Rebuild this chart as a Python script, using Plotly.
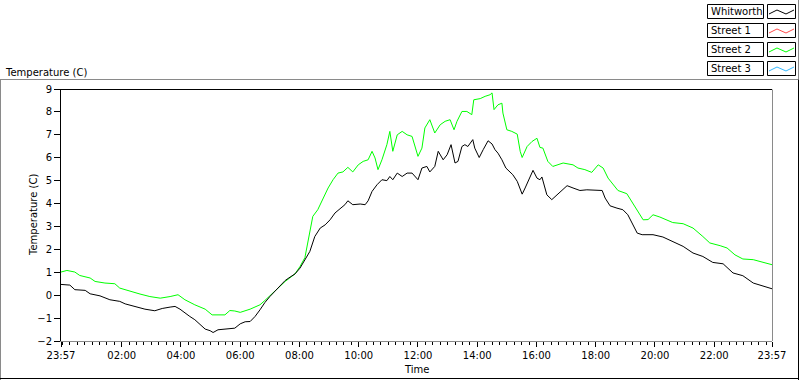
import plotly.graph_objects as go

# ---------------- data (time = minutes after 23:57) ----------------
whit_min = [0, 18, 28, 49, 59, 79, 99, 119, 130, 150, 170, 190, 205, 221, 231, 241, 251, 261, 271, 282,
            292, 302, 308, 318, 332, 352, 363, 373, 383, 393, 403, 413, 423, 433, 444, 454, 464, 474, 484, 494,
            504, 514, 525, 535, 545, 555, 565, 575, 581, 591, 606, 616, 622, 630, 640, 650, 660, 666, 672, 681,
            691, 701, 711, 723, 731, 741, 747, 757, 764, 774, 782, 790, 798, 804, 812, 818, 824, 834, 838, 847,
            855, 865, 873, 879, 885, 893, 901, 909, 915, 924, 934, 940, 946, 956, 964, 970, 974, 984, 994, 1005,
            1015, 1025, 1037, 1051, 1065, 1077, 1096, 1102, 1112, 1126, 1138, 1148, 1156, 1167, 1177, 1199, 1219,
            1239, 1260, 1280, 1300, 1320, 1341, 1361, 1381, 1402, 1422, 1440]
whit_temp = [0.47, 0.44, 0.24, 0.21, 0.06, -0.03, -0.2, -0.27, -0.38, -0.49, -0.61, -0.68, -0.58, -0.52, -0.49,
             -0.61, -0.78, -0.93, -1.07, -1.29, -1.48, -1.55, -1.63, -1.51, -1.48, -1.44, -1.25, -1.16, -1.15,
             -0.93, -0.64, -0.32, -0.06, 0.16, 0.41, 0.64, 0.79, 0.93, 1.18, 1.55, 1.91, 2.56, 2.93, 3.07, 3.29,
             3.59, 3.77, 3.95, 4.12, 3.95, 3.98, 3.95, 4.12, 4.53, 4.82, 5.04, 5.0, 5.18, 5.04, 5.33, 5.18, 5.33,
             5.33, 5.04, 5.55, 5.62, 5.38, 5.62, 6.28, 5.91, 6.13, 6.57, 5.77, 5.84, 6.49, 6.57, 6.49, 6.79, 6.42,
             6.01, 6.35, 6.74, 6.6, 6.35, 6.2, 5.91, 5.55, 5.38, 5.26, 4.97, 4.41, 4.68, 5.0, 5.45, 5.11, 5.04,
             5.16, 4.38, 4.17, 4.38, 4.6, 4.78, 4.68, 4.57, 4.6, 4.6, 4.57, 4.24, 3.9, 3.8, 3.73, 3.51, 3.15, 2.71,
             2.64, 2.64, 2.54, 2.35, 2.13, 1.84, 1.69, 1.43, 1.37, 0.97, 0.85, 0.53, 0.41, 0.28]

street2_min = [0, 12, 28, 38, 59, 69, 89, 109, 119, 140, 160, 180, 201, 221, 237, 251, 271, 292, 306, 332, 342,
               352, 363, 383, 393, 403, 413, 433, 454, 474, 484, 494, 500, 510, 520, 531, 541, 551, 561, 571, 581,
               591, 602, 612, 622, 630, 636, 642, 650, 660, 666, 672, 681, 691, 701, 711, 717, 723, 731, 737, 747,
               757, 768, 778, 788, 796, 802, 812, 822, 832, 836, 849, 859, 869, 873, 877, 885, 893, 895, 903, 913,
               924, 930, 934, 944, 954, 964, 970, 976, 986, 996, 1017, 1037, 1047, 1061, 1075, 1088, 1098, 1108,
               1118, 1128, 1146, 1158, 1169, 1179, 1189, 1199, 1213, 1227, 1239, 1260, 1280, 1300, 1314, 1335,
               1349, 1365, 1381, 1402, 1422, 1440]
street2_temp = [1.01, 1.08, 1.01, 0.86, 0.75, 0.6, 0.53, 0.5, 0.31, 0.16, 0.05, -0.06, -0.13, -0.06, 0.02, -0.2,
                -0.42, -0.61, -0.86, -0.86, -0.67, -0.69, -0.75, -0.61, -0.52, -0.42, -0.23, 0.16, 0.6, 0.93, 1.25,
                1.64, 2.35, 3.44, 3.73, 4.24, 4.68, 5.04, 5.33, 5.38, 5.58, 5.38, 5.69, 5.84, 5.91, 6.28, 5.99, 5.48,
                5.91, 6.57, 7.15, 6.28, 7.0, 7.15, 7.0, 6.93, 6.49, 6.06, 6.42, 7.3, 7.66, 7.08, 7.44, 7.59, 7.66,
                7.22, 7.59, 8.02, 8.02, 7.88, 8.53, 8.58, 8.68, 8.75, 8.83, 8.1, 8.31, 8.38, 7.95, 7.22, 7.15, 7.03,
                6.28, 6.01, 6.49, 6.71, 6.85, 6.45, 6.42, 5.84, 5.62, 5.77, 5.69, 5.55, 5.48, 5.36, 5.69, 5.55, 5.11,
                4.86, 4.57, 4.43, 4.02, 3.59, 3.29, 3.3, 3.51, 3.41, 3.29, 3.17, 3.12, 2.93, 2.56, 2.28, 2.16, 2.06,
                1.76, 1.58, 1.55, 1.43, 1.33]

street1_min, street1_temp = [], []
street3_min, street3_temp = [], []

x_tick_vals = [0, 123, 243, 363, 483, 603, 723, 843, 963, 1083, 1203, 1323, 1440]
x_tick_text = ["23:57", "02:00", "04:00", "06:00", "08:00", "10:00", "12:00", "14:00",
               "16:00", "18:00", "20:00", "22:00", "23:57"]
y_tick_vals = list(range(-2, 10))

legend_names = ["Whitworth", "Street 1", "Street 2", "Street 3"]
legend_colors = ["#000000", "#ff4a4a", "#00ff00", "#33b9ff"]

# ---------------- layout geometry (pixels) ----------------
W, H = 800, 380
PL, PR, PT, PB = 61, 772, 89, 341   # plot area edges


def px(x):
    return (x - PL) / (PR - PL)


def py(y):
    return (PB - y) / (PB - PT)


FONT = "DejaVu Sans"

fig = go.Figure()
fig.add_trace(go.Scatter(x=street1_min, y=street1_temp, mode="lines", name="Street 1",
                         line=dict(color=legend_colors[1], width=1)))
fig.add_trace(go.Scatter(x=street3_min, y=street3_temp, mode="lines", name="Street 3",
                         line=dict(color=legend_colors[3], width=1)))
fig.add_trace(go.Scatter(x=street2_min, y=street2_temp, mode="lines", name="Street 2",
                         line=dict(color=legend_colors[2], width=1)))
fig.add_trace(go.Scatter(x=whit_min, y=whit_temp, mode="lines", name="Whitworth",
                         line=dict(color=legend_colors[0], width=1)))

shapes = []
annotations = []


def line(x0, y0, x1, y1, color, width=1):
    shapes.append(dict(type="line", xref="paper", yref="paper",
                       x0=px(x0), y0=py(y0), x1=px(x1), y1=py(y1),
                       line=dict(color=color, width=width)))


# outer frame
line(0, 79.5, 799, 79.5, "#8a8a8a")
line(0.5, 79.5, 0.5, 380, "#8a8a8a")
line(798.5, 79.5, 798.5, 380, "#000000")
line(0, 378.5, 799, 378.5, "#000000")
# legend frame
line(798.5, 0, 798.5, 79.5, "#8a8a8a")
# plot area border (top black, right grey)
line(PL, 89.5, PR, 89.5, "#000000")
line(PR + 0.5, 89.5, PR + 0.5, 341, "#8a8a8a")

# legend boxes
for i, (name, col) in enumerate(zip(legend_names, legend_colors)):
    top = 4 + 19 * i
    bot = top + 14
    shapes.append(dict(type="rect", xref="paper", yref="paper",
                       x0=px(707.5), x1=px(763.5), y0=py(bot + 0.5), y1=py(top + 0.5),
                       line=dict(color="#000000", width=1), fillcolor="white"))
    shapes.append(dict(type="rect", xref="paper", yref="paper",
                       x0=px(767.5), x1=px(795.5), y0=py(bot + 0.5), y1=py(top + 0.5),
                       line=dict(color="#000000", width=1), fillcolor="white"))
    pts = [(769, top + 10), (777, top + 6), (786, top + 10), (794, top + 6)]
    path = "M " + " L ".join(f"{px(a):.5f},{py(b):.5f}" for a, b in pts)
    shapes.append(dict(type="path", xref="paper", yref="paper", path=path,
                       line=dict(color=col, width=1)))
    annotations.append(dict(xref="paper", yref="paper", x=px(709), y=py(top + 7.5),
                            xanchor="left", yanchor="middle", showarrow=False,
                            text=name, font=dict(family=FONT, size=10, color="#000000")))

# titles
annotations.append(dict(xref="paper", yref="paper", x=px(3), y=py(72),
                        xanchor="left", yanchor="middle", showarrow=False,
                        text="Temperature (C)", font=dict(family=FONT, size=10, color="#000000")))
annotations.append(dict(xref="paper", yref="paper", x=px(33), y=py(215),
                        xanchor="center", yanchor="middle", showarrow=False, textangle=-90,
                        text="Temperature (C)", font=dict(family=FONT, size=10, color="#000000")))
annotations.append(dict(xref="paper", yref="paper", x=px(416), y=py(369),
                        xanchor="center", yanchor="middle", showarrow=False,
                        text="Time", font=dict(family=FONT, size=10, color="#000000")))

fig.update_layout(
    width=W, height=H,
    margin=dict(l=PL, r=W - PR, t=PT, b=H - PB),
    paper_bgcolor="white", plot_bgcolor="white",
    showlegend=False,
    font=dict(family=FONT, size=10, color="#000000"),
    shapes=shapes, annotations=annotations,
    xaxis=dict(range=[0, 1440], tickmode="array", tickvals=x_tick_vals, ticktext=x_tick_text,
               showgrid=False, zeroline=False, showline=True, linecolor="#8a8a8a", linewidth=1,
               ticks="outside", ticklen=5, tickcolor="#000000", tickwidth=1,
               tickfont=dict(family=FONT, size=10, color="#000000"),
               minor=dict(tickmode="linear", tick0=3, dtick=15, ticks="outside", ticklen=3,
                          tickcolor="#000000", tickwidth=1, showgrid=False)),
    yaxis=dict(range=[-2, 9], tickmode="array", tickvals=y_tick_vals,
               showgrid=False, zeroline=False, showline=True, linecolor="#000000", linewidth=1,
               ticks="outside", ticklen=6, tickcolor="#000000", tickwidth=1,
               tickfont=dict(family=FONT, size=10, color="#000000")),
)

fig.write_html(
    "out.html",
    config={"displayModeBar": False},
    post_script="document.body.style.margin='0';document.body.style.overflow='hidden';",
)
